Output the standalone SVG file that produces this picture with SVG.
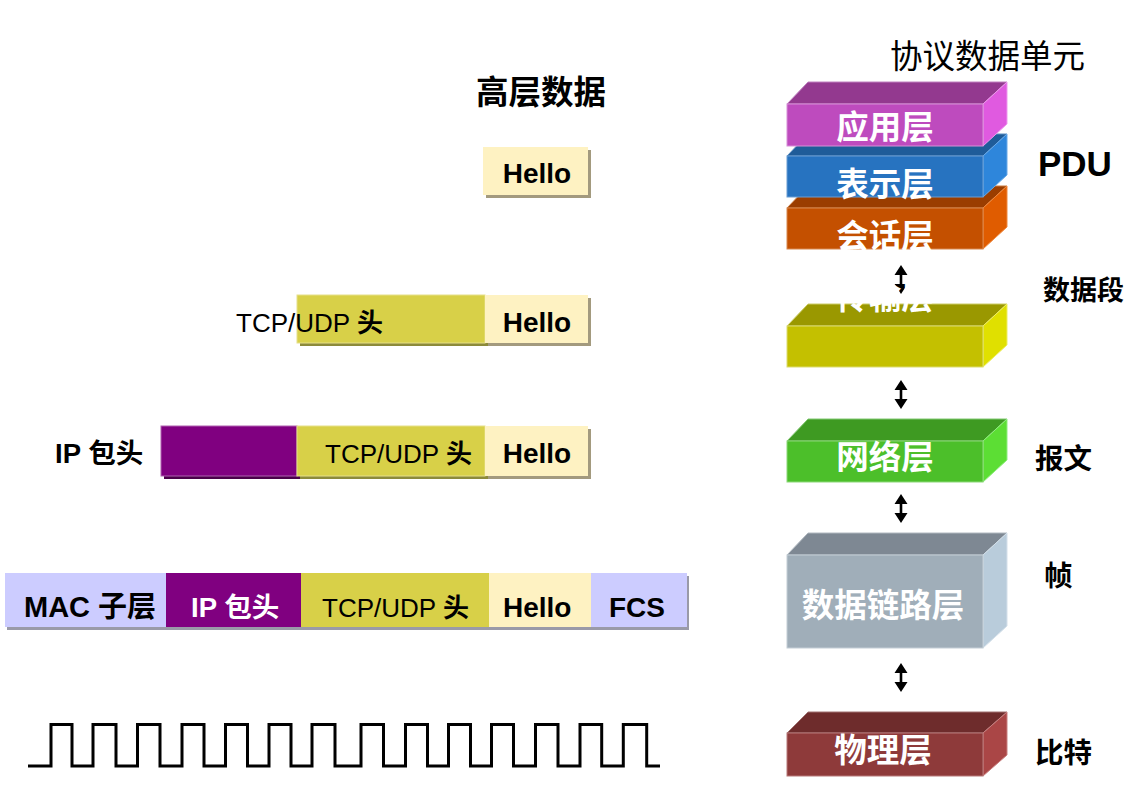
<svg xmlns="http://www.w3.org/2000/svg" xmlns:xlink="http://www.w3.org/1999/xlink" width="1130" height="785" viewBox="0 0 1130 785">
<style>
  .lat { font-family: "Liberation Sans", "Noto Sans CJK SC", sans-serif; }
  .cjk { font-family: "Noto Sans CJK SC", "Liberation Sans", sans-serif; }
  .b { font-weight: bold; }
  .blk { fill: #000; }
  .wht { fill: #fff; }
  .mid { text-anchor: middle; }
  .layer { font-family: "Noto Sans CJK SC", sans-serif; font-weight: bold; font-size: 32.5px; fill: #fff; text-anchor: middle; }
  .edge { stroke-width: 1; }
  .hello { fill: #FEF2C2; }
  .tcp { fill: #D8D048; }
  .ip { fill: #800080; }
  .mac { fill: #CCCCFF; }
</style>
<defs>
  <path id="dbl" d="M0,0 L6.5,10 L1.3,10 L1.3,19 L6.5,19 L0,29 L-6.5,19 L-1.3,19 L-1.3,10 L-6.5,10 Z" fill="#000"/>
</defs>

<!-- connectors (drawn first so layer text can overlap) -->
<g id="connectors">
  <use xlink:href="#dbl" transform="translate(901,265)"/>
  <use xlink:href="#dbl" transform="translate(901,380)"/>
  <use xlink:href="#dbl" transform="translate(901,494)"/>
  <use xlink:href="#dbl" transform="translate(901,663)"/>
</g>

<!-- title -->
<g id="title-pdu">
  <text x="890" y="68" class="cjk" font-size="32.5" fill="#000">协议数据单元</text>
</g>

<!-- OSI layers -->
<g id="layer-session">
  <polygon points="787,208 808,186 1007,186 983,208" fill="#9A3D00" stroke="#C87a40" class="edge"/>
  <polygon points="983,208 1007,186 1007,227 983,249" fill="#E05C00" stroke="#F08a40" class="edge"/>
  <rect x="787" y="208" width="196" height="41" fill="#C45000" stroke="#D8884F" class="edge"/>
  <text x="885" y="248" class="layer">会话层</text>
</g>
<g id="layer-presentation">
  <polygon points="787,156 808,134 1007,134 983,156" fill="#1F5C99" stroke="#5a8cc0" class="edge"/>
  <polygon points="983,156 1007,134 1007,175 983,197" fill="#2E86DB" stroke="#6aaae8" class="edge"/>
  <rect x="787" y="156" width="196" height="41" fill="#2773C0" stroke="#6a9ed4" class="edge"/>
  <text x="885" y="196" class="layer">表示层</text>
</g>
<g id="layer-application">
  <polygon points="787,104 808,82 1007,82 983,104" fill="#93398F" stroke="#c080c0" class="edge"/>
  <polygon points="983,104 1007,82 1007,124 983,146" fill="#E05AE0" stroke="#ee99ee" class="edge"/>
  <rect x="787" y="104" width="196" height="42" fill="#BE4BBE" stroke="#d890d8" class="edge"/>
  <text x="885" y="139" class="layer">应用层</text>
</g>
<g id="layer-transport">
  <polygon points="787,326 808,304 1007,304 983,326" fill="#9A9800" stroke="#cccc66" class="edge"/>
  <polygon points="983,326 1007,304 1007,345 983,367" fill="#E0E000" stroke="#eeee66" class="edge"/>
  <rect x="787" y="326" width="196" height="41" fill="#C4C000" stroke="#dcdc70" class="edge"/>
  <text x="885" y="309" class="layer">传输层</text>
</g>
<g id="layer-network">
  <polygon points="787,441 808,419 1007,419 983,441" fill="#3E9A22" stroke="#80c870" class="edge"/>
  <polygon points="983,441 1007,419 1007,460 983,482" fill="#5CDE34" stroke="#90ee80" class="edge"/>
  <rect x="787" y="441" width="196" height="41" fill="#4CBF2A" stroke="#8cd878" class="edge"/>
  <text x="885" y="469" class="layer">网络层</text>
</g>
<g id="layer-datalink">
  <polygon points="787,555 808,533 1007,533 983,555" fill="#7E8893" stroke="#b0b8c0" class="edge"/>
  <polygon points="983,555 1007,533 1007,626 983,648" fill="#B9CCDB" stroke="#d4e0ea" class="edge"/>
  <rect x="787" y="555" width="196" height="93" fill="#A0AEB9" stroke="#c4ced6" class="edge"/>
  <text x="883" y="617" class="layer">数据链路层</text>
</g>
<g id="layer-physical">
  <polygon points="787,733 808,712 1007,712 983,733" fill="#6E2C2C" stroke="#a07070" class="edge"/>
  <polygon points="983,733 1007,712 1007,755 983,776" fill="#AA4646" stroke="#c88080" class="edge"/>
  <rect x="787" y="733" width="196" height="43" fill="#8E3A3A" stroke="#b87878" class="edge"/>
  <text x="883" y="762" class="layer">物理层</text>
</g>

<!-- PDU labels -->
<g id="pdu-labels" class="cjk b blk">
  <text x="1038" y="176" class="lat b" font-size="35">PDU</text>
  <text x="1043" y="300" font-size="27">数据段</text>
  <text x="1035" y="469" font-size="28.5">报文</text>
  <text x="1044" y="586" font-size="28.5">帧</text>
  <text x="1035" y="763" font-size="28.5">比特</text>
</g>

<!-- Left: encapsulation -->
<g id="label-high">
  <text x="476" y="104" class="cjk b blk" font-size="32.5">高层数据</text>
</g>

<g id="row1">
  <rect x="486" y="150" width="105" height="48" fill="#A39A7E"/>
  <rect x="483" y="147" width="105" height="48" class="hello"/>
  <text x="537" y="183" class="lat b blk mid" font-size="28">Hello</text>
</g>

<g id="row2">
  <rect x="300" y="298" width="188" height="48" fill="#8C8A3A"/>
  <rect x="297" y="295" width="188" height="48" class="tcp" stroke="#E6E08A" stroke-width="1"/>
  <rect x="488" y="298" width="103" height="48" fill="#A39A7E"/>
  <rect x="485" y="295" width="103" height="48" class="hello"/>
  <text x="236" y="332" class="lat blk" font-size="26">TCP/UDP <tspan class="cjk b">头</tspan></text>
  <text x="537" y="332" class="lat b blk mid" font-size="28">Hello</text>
</g>

<g id="row3">
  <text x="55" y="463" class="lat b blk" font-size="27.5">IP <tspan class="cjk">包头</tspan></text>
  <rect x="164" y="429" width="136" height="50" fill="#4A004A"/>
  <rect x="161" y="426" width="136" height="50" class="ip" stroke="#B060B0" stroke-width="1"/>
  <rect x="300" y="429" width="188" height="50" fill="#8C8A3A"/>
  <rect x="297" y="426" width="188" height="50" class="tcp" stroke="#E6E08A" stroke-width="1"/>
  <rect x="488" y="429" width="103" height="50" fill="#A39A7E"/>
  <rect x="485" y="426" width="103" height="50" class="hello"/>
  <text x="325" y="463" class="lat blk" font-size="26">TCP/UDP <tspan class="cjk b">头</tspan></text>
  <text x="537" y="463" class="lat b blk mid" font-size="28">Hello</text>
</g>

<g id="row4">
  <rect x="7" y="576" width="682" height="54" fill="#9A9AA8"/>
  <rect x="5" y="573" width="161" height="54" class="mac"/>
  <rect x="166" y="573" width="135" height="54" class="ip"/>
  <rect x="301" y="573" width="188" height="54" class="tcp"/>
  <rect x="489" y="573" width="102" height="54" class="hello"/>
  <rect x="591" y="573" width="96" height="54" class="mac"/>
  <text x="24" y="617" class="lat b blk" font-size="29">MAC <tspan class="cjk">子层</tspan></text>
  <text x="191" y="617" class="lat b wht" font-size="27.5">IP <tspan class="cjk">包头</tspan></text>
  <text x="322" y="617" class="lat blk" font-size="26">TCP/UDP <tspan class="cjk b">头</tspan></text>
  <text x="503" y="617" class="lat b blk" font-size="28">Hello</text>
  <text x="609" y="617" class="lat b blk" font-size="28">FCS</text>
</g>

<g id="bitstream">
  <path d="M28,766 H51 V724.5 H72 V766 H93 V724.5 H116 V766 H137.5 V724.5 H160 V766 H182 V724.5 H204 V766 H225.5 V724.5 H247.5 V766 H269 V724.5 H291 V766 H312 V724.5 H335 V766 H361 V724.5 H383.5 V766 H405.5 V724.5 H427.5 V766 H448.5 V724.5 H470.5 V766 H491.5 V724.5 H513.5 V766 H535.5 V724.5 H558 V766 H580 V724.5 H601.7 V766 H623.3 V724.5 H646.7 V766 H660" fill="none" stroke="#000" stroke-width="3"/>
</g>
</svg>
